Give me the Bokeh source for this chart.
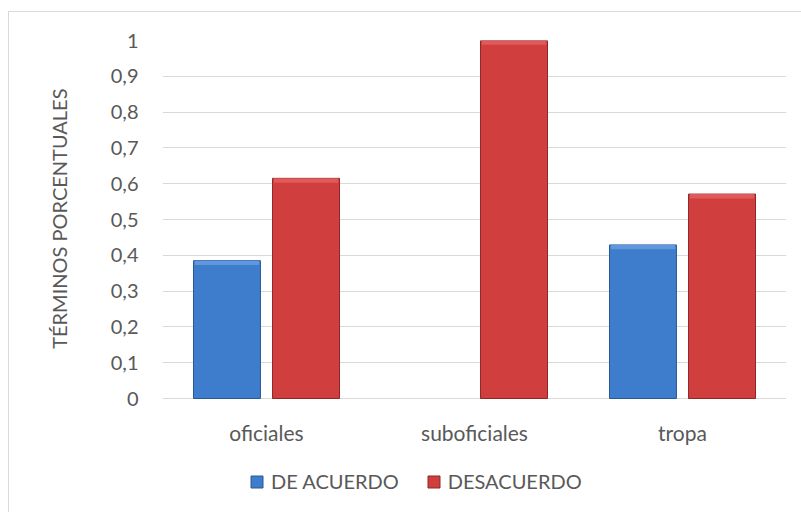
from bokeh.plotting import figure
from bokeh.models import Range1d, Legend, LegendItem, ColumnDataSource, CustomJSTickFormatter, FixedTicker, Title
from bokeh.transform import dodge
from bokeh.core.properties import value
from bokeh.embed import file_html
from bokeh.resources import INLINE

categories = ["oficiales", "suboficiales", "tropa"]
de_acuerdo = [0.385, 0.0, 0.429]
desacuerdo = [0.615, 1.0, 0.571]
y_ticks = [0, 0.1, 0.2, 0.3, 0.4, 0.5, 0.6, 0.7, 0.8, 0.9, 1.0]
series_names = ["DE ACUERDO", "DESACUERDO"]
y_title = "TÉRMINOS PORCENTUALES"

FONT = "Lato"
GRAY = "#595959"

src = ColumnDataSource(dict(cat=categories, a=de_acuerdo, d=desacuerdo,
                            a_hi=[max(v - 0.012, 0) for v in de_acuerdo],
                            d_hi=[max(v - 0.012, 0) for v in desacuerdo],
                            a_al=[1 if v > 0 else 0 for v in de_acuerdo],
                            d_al=[1 if v > 0 else 0 for v in desacuerdo]))

# frame extends below zero so that category labels and legend sit inside it
p = figure(x_range=categories, y_range=Range1d(-0.3212, 1), width=793, height=501,
           output_backend="svg", toolbar_location=None,
           min_border_left=0, min_border_right=16, min_border_top=28, min_border_bottom=0)
p.styles = {"margin-top": "11px", "margin-left": "8px",
            "border-left": "1px solid #d9d9d9", "border-top": "1px solid #d9d9d9"}
p.outline_line_color = None

r1 = p.vbar(x=dodge("cat", -0.19, range=p.x_range), top="a", width=0.322, source=src,
            fill_color="#3d7dcc", line_color="#2a5a96", line_width=1,
            fill_alpha="a_al", line_alpha="a_al")
r2 = p.vbar(x=dodge("cat", 0.19, range=p.x_range), top="d", width=0.322, source=src,
            fill_color="#d03e3e", line_color="#8e2626", line_width=1,
            fill_alpha="d_al", line_alpha="d_al")
# top bevel highlight
p.vbar(x=dodge("cat", -0.19, range=p.x_range), bottom="a_hi", top="a", width=0.31, source=src,
       fill_color="#5f98de", line_color=None, fill_alpha="a_al")
p.vbar(x=dodge("cat", 0.19, range=p.x_range), bottom="d_hi", top="d", width=0.31, source=src,
       fill_color="#e05a5a", line_color=None, fill_alpha="d_al")

# category labels
p.text(x=categories, y=[-0.095] * len(categories), text=categories,
       text_font=value(FONT), text_font_size="21px", text_color=GRAY,
       text_align="center", text_baseline="middle")

p.xaxis.visible = False
p.xgrid.grid_line_color = None
p.ygrid.ticker = FixedTicker(ticks=y_ticks)
p.ygrid.grid_line_color = "#d9d9d9"
p.ygrid.grid_line_width = 1.2

p.yaxis.ticker = FixedTicker(ticks=y_ticks)
p.yaxis.formatter = CustomJSTickFormatter(code="return (Math.round(tick*10)/10).toString().replace('.', ',');")
p.yaxis.axis_line_color = None
p.yaxis.major_tick_line_color = None
p.yaxis.minor_tick_line_color = None
p.yaxis.major_label_text_font = FONT
p.yaxis.major_label_text_font_size = "20px"
p.yaxis.major_label_text_color = GRAY
p.yaxis.major_label_standoff = 18

title = Title(text=y_title, align="right", offset=48, standoff=72, vertical_align="middle",
              text_font=FONT, text_font_size="20px", text_font_style="normal",
              text_color=GRAY)
p.add_layout(title, "left")

legend = Legend(items=[LegendItem(label=series_names[0], renderers=[r1]),
                       LegendItem(label=series_names[1], renderers=[r2])],
                orientation="horizontal", location=(87, 20),
                label_text_font=FONT, label_text_font_size="20px", label_text_color=GRAY,
                glyph_width=15, glyph_height=15, label_standoff=7, spacing=27,
                padding=0, margin=0, border_line_color=None, background_fill_alpha=0)
p.add_layout(legend, "center")

open("out.html", "w").write(file_html(p, INLINE))
